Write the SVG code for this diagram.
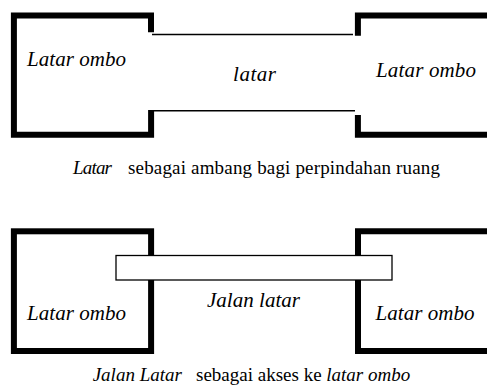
<svg xmlns="http://www.w3.org/2000/svg" width="487" height="392" viewBox="0 0 487 392">
<style>
.wall{fill:none;stroke:#000;stroke-width:6;stroke-linejoin:miter}
.thin{fill:none;stroke:#000;stroke-width:1.5}
.lbl{font-style:italic;font-size:21px}
.cap{font-size:19px}
.it{font-style:italic}
</style>
<rect width="487" height="392" fill="#fff"/>
<g font-family="Liberation Serif, Times New Roman, serif" fill="#000">
<g id="top-left-room">
<path class="wall" d="M151 32.3V15.5H13.9V134.7H151.1V110"/>
<text class="lbl" x="27" y="66" textLength="99">Latar ombo</text>
</g>
<g id="top-right-room">
<path class="wall" d="M357.9 35.7V15.5H490M357.9 115V134.7H490"/>
<text class="lbl" x="376" y="77" textLength="100">Latar ombo</text>
</g>
<g id="connectors">
<path class="thin" d="M152 34.5H353M154 110.8H355"/>
</g>
<g id="top-latar">
<text class="lbl" x="233" y="81" textLength="43">latar</text>
</g>
<g id="caption-1">
<text class="cap it" x="73" y="174" textLength="39">Latar</text>
<text class="cap" x="128" y="174" textLength="312">sebagai ambang bagi perpindahan ruang</text>
</g>
<g id="bottom-left-room">
<rect class="wall" x="13.9" y="231.3" width="137.2" height="119.7"/>
<text class="lbl" x="27" y="320" textLength="99">Latar ombo</text>
</g>
<g id="bottom-right-room">
<path class="wall" d="M490 231.3H358V351H490"/>
<text class="lbl" x="375.5" y="320" textLength="99">Latar ombo</text>
</g>
<g id="jalan-latar">
<rect x="116" y="255.5" width="276" height="24.5" fill="#fff" stroke="#000" stroke-width="1.3"/>
<text class="lbl" x="207" y="307" textLength="93">Jalan latar</text>
</g>
<g id="caption-2">
<text class="cap" y="381"><tspan class="it" x="92.7">Jalan Latar</tspan><tspan x="196">sebagai akses ke </tspan><tspan class="it">latar ombo</tspan></text>
</g>
</g>
</svg>
